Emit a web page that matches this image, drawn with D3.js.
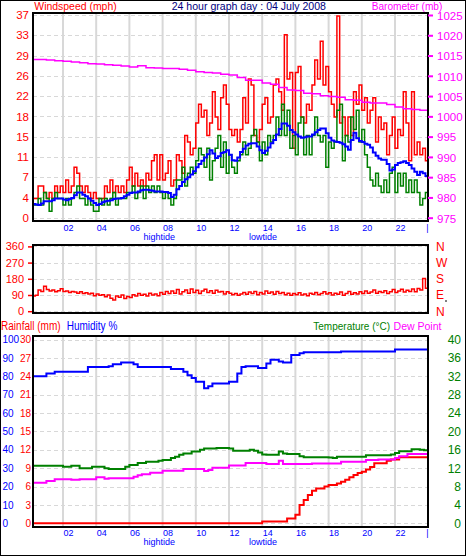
<!DOCTYPE html>
<html><head><meta charset="utf-8">
<script src="https://cdn.jsdelivr.net/npm/d3@7"></script>
<style>
html,body{margin:0;padding:0;background:#fff;}
svg{display:block;}
</style></head><body>
<svg id="chart" width="466" height="556"></svg>
<script>
// ---------------- DATA ----------------
// Top panel: 10-minute samples, first at 00:10, last at 24:00 (mph)
const windStartHour = 1/6, windStepHours = 1/6;
const gustMph = [
3.5,3.5,5.8,5.8,4.6, 3.5,4.6,3.5,5.8,4.6, 5.8,4.6,6.9,4.6,5.8, 9.2,8.1,5.8,4.6,5.8,
4.6,3.5,4.6,3.5,3.5, 3.5,5.8,4.6,6.9,4.6, 5.8,4.6,5.8,4.6,6.9, 9.2,5.8,8.1,5.8,6.9,
5.8,8.1,6.9,10.4,11.5, 6.9,11.5,6.9,8.1,10.4, 5.8,6.9,11.5,10.4,8.1, 15.0,13.8,11.5,12.7,17.3,
20.7,18.4,19.6,15.0,17.3, 23.0,18.4,16.1,21.9,24.2, 20.7,16.1,15.0,16.1,13.8, 16.1,21.9,17.3,25.3,24.2,
15.0,13.8,16.1,20.7,21.9, 17.3,18.4,24.2,25.3,23.0, 19.6,33.4,25.3,26.5,12.7, 26.5,27.6,18.4,17.3,20.7,
19.6,24.2,28.8,25.3,32.2, 24.2,27.6,23.0,20.7,18.4, 36.8,17.3,18.4,15.0,18.4, 15.0,23.0,20.7,24.2,19.6,
21.9,17.3,19.6,21.9,13.8, 18.4,16.1,17.3,11.5,15.0, 18.4,12.7,16.1,15.0,23.0, 17.3,10.4,23.0,11.5,13.8,
11.5,12.7,10.4,9.2];
const avgMph = [
2.3,2.3,3.5,2.3,4.6, 3.5,1.2,3.5,4.6,3.5, 3.5,2.3,3.5,2.3,3.5, 4.6,5.8,3.5,3.5,2.3,
3.5,2.3,1.2,1.2,3.5, 2.3,3.5,2.3,3.5,4.6, 2.3,3.5,3.5,3.5,4.6, 4.6,5.8,3.5,4.6,5.8,
3.5,5.8,4.6,5.8,4.6, 5.8,4.6,3.5,4.6,3.5, 2.3,3.5,6.9,6.9,9.2, 5.8,8.1,9.2,8.1,10.4,
12.7,11.5,9.2,12.7,6.9, 10.4,12.7,15.0,9.2,13.8, 8.1,11.5,9.2,8.1,10.4, 11.5,13.8,11.5,12.7,15.0,
16.1,13.8,10.4,13.8,11.5, 15.0,13.8,15.0,18.4,15.0, 20.7,15.0,19.6,12.7,15.0, 11.5,17.3,18.4,11.5,15.0,
11.5,15.0,18.4,15.0,13.8, 15.0,9.2,13.8,12.7,13.8, 19.6,20.7,10.4,15.0,13.8, 18.4,16.1,19.6,13.8,16.1,
11.5,9.2,6.9,5.8,8.1, 5.8,4.6,6.9,4.6,8.1, 9.2,4.6,8.1,5.8,8.1, 4.6,6.9,4.6,6.9,4.6,
2.3,3.5,4.6,4.6];
const smoothMph = [
2.5,2.4,2.3,2.6,3.0, 3.0,3.0,3.2,3.5,3.5, 3.5,3.3,3.2,3.4,3.6, 4.1,4.6,4.6,4.2,3.9,
3.5,3.1,2.7,2.3,2.5, 2.8,3.0,3.1,3.2,3.4, 3.5,3.5,3.6,3.9,4.2, 4.5,4.6,4.6,4.8,5.0,
5.1,5.1,5.0,4.9,4.8, 4.8,4.8,4.7,4.7,4.5, 3.8,4.2,5.2,5.8,6.5, 7.0,7.4,7.9,8.5,9.2,
9.8,10.4,11.0,11.6,12.3, 11.7,10.9,11.2,11.8,12.0, 12.3,11.5,10.5,10.4,11.0, 12.0,12.6,13.2,13.5,13.6,
13.6,13.0,12.3,11.8,12.2, 12.8,13.6,14.2,15.2,16.2, 17.2,17.2,16.8,16.0,15.6, 15.2,14.8,14.6,14.7,14.8,
14.8,15.2,15.6,16.0,16.3, 16.3,15.4,14.6,14.1,13.9, 13.8,13.7,13.4,13.0,12.4, 14.2,15.5,14.5,14.0,13.8,
13.5,13.3,12.8,11.9,11.3, 10.8,10.6,10.6,9.8,8.6, 8.8,9.6,10.0,10.1,10.3, 10.0,9.6,9.0,8.4,7.8,
8.4,8.1,7.6,7.3];
// Barometer: 30-minute samples from 00:00 (mb)
const baroStartHour = 0, baroStepHours = 0.5;
const baroMb = [1014.0,1014.0,1013.9,1013.7,1013.6,1013.4,1013.2,1013.0,1012.9,1012.7,1012.6,1012.4,1012.2,1012.5,1012.0,1011.9,1011.8,1011.8,1011.6,1011.4,1011.0,1010.8,1010.7,1010.4,1010.2,1009.6,1008.9,1008.9,1008.2,1007.9,1007.1,1006.5,1006.4,1005.7,1005.6,1005.1,1004.9,1004.7,1004.1,1004.0,1003.5,1003.3,1003.3,1002.9,1002.3,1001.9,1001.7,1001.5,1001.4];
// Wind direction: 10-minute samples (degrees)
const windDirDeg = [
85,88,118,110,138, 120,112,118,108,114, 125,110,112,104,110, 106,100,108,98,102,
95,100,86,96,88, 92,80,90,72,62, 84,78,90,70,82, 76,92,84,98,88,
94,84,100,90,96, 86,104,94,110,98, 112,100,120,96,108, 118,100,124,104,116,
98,112,122,104,114, 100,116,106,110,96, 108,100,92,98,88, 96,104,94,106,98,
110,92,104,96,112, 100,106,94,110,98, 104,92,100,88,98, 92,102,90,96,86,
100,94,104,92,98, 108,96,102,90,100, 94,106,88,98,110, 94,102,96,108,98,
112,100,106,118,100, 110,104,114,98,108, 120,104,112,122,106, 116,110,124,108,126,
118,182,128,90];
// Bottom panel: 15-minute samples, first at 00:15, last at 24:00
const climStartHour = 0.25, climStepHours = 0.25;
const humidityPct = [80,80,80,81.5,81.5,82.5,82.5,82.5,82.5,82.5,
82.5,82.5,82.5,85,85,85,85,85,85.5,86.5,
86.5,87.5,87.5,87.5,86.5,85,85,85,85,85,
85,85,85,84,84,84,82.5,80.5,79,77,
77,73.5,74.5,76,76,76,76,77,77,81.5,
85,85.5,85.5,85.5,84.5,84.5,87,89,89,88,
87.5,87.5,91.5,91.5,92.5,93,93,93,93,93,
93,93,93,93,93.5,93.5,93.5,93.5,93.5,93.5,
93.5,93.5,93.5,93.5,93.5,93.5,93.5,94.5,94.5,94.5,
94.5,94.5,94.5,94.5,94.5,94.5];
const temperatureC = [12.5,12.5,12.5,12.5,12.5,12.5,12.5,12.3,12.3,12.5,
12.5,12.0,12.0,12.0,12.3,12.3,12.3,12.0,11.8,11.8,
11.8,11.8,12.3,12.7,12.7,13.1,13.1,13.4,13.4,13.4,
13.6,13.8,13.8,14.2,14.5,14.9,15.2,15.2,15.6,15.6,
16.0,16.3,16.3,16.3,16.4,16.4,16.4,16.3,15.8,15.8,
15.8,15.8,16.0,15.8,15.4,15.0,14.9,14.9,14.9,15.6,
15.2,15.1,15.1,15.1,14.6,14.4,14.4,14.4,14.4,14.4,
14.4,14.3,14.2,14.5,14.5,14.5,14.5,14.5,14.5,14.5,
14.8,14.8,14.8,14.8,14.8,14.8,15.0,15.3,15.7,15.7,
15.7,16.1,16.1,16.0,15.9,15.9];
const dewPointC = [8.8,8.8,8.8,9.2,9.2,9.6,9.6,9.6,9.6,9.5,
9.5,9.6,9.6,9.6,9.6,10.0,10.0,9.7,9.8,9.8,
9.8,9.8,9.8,9.8,10.15,10.45,10.7,10.7,11.0,11.0,
11.0,11.45,11.45,11.45,11.45,11.45,11.8,11.8,11.8,11.8,
11.8,11.4,11.6,12.1,12.1,12.1,12.1,12.6,12.6,12.6,
12.6,13.1,13.1,13.1,13.1,13.1,12.9,12.9,12.9,13.6,
12.9,12.9,12.9,12.9,12.9,12.9,12.9,13.0,13.0,13.0,
13.0,13.0,13.0,13.0,13.4,13.4,13.4,13.4,13.4,13.4,
13.8,13.8,13.8,13.9,13.9,13.9,13.9,14.2,14.6,14.6,
15.1,15.1,15.1,15.1,15.1,15.1];
const rainfallMm = [0,0,0,0,0,0,0,0,0,0,
0,0,0,0,0,0,0,0,0,0,
0,0,0,0,0,0,0,0,0,0,
0,0,0,0,0,0,0,0,0,0,
0,0,0,0,0,0,0,0,0,0,
0,0,0,0,0,0.3,0.3,0.3,0.3,0.3,
0.3,0.8,0.8,1.4,3.0,3.8,4.6,5.3,5.7,5.7,
6.0,6.25,6.25,6.5,6.8,7.1,7.5,7.9,8.2,8.4,
8.8,9.2,9.8,9.8,9.8,10.2,10.4,10.4,10.8,10.8,
10.8,10.8,10.8,10.8,10.8,0];
// Tick labels
const hourTickValues = [2,4,6,8,10,12,14,16,18,20,22,24];
const hourTickLabels = ["02","04","06","08","10","12","14","16","18","20","22","|"];
const tideHours = [7.8, 14.05];
const tideLabels = ["hightide","lowtide"];
const windTickLabels = ["0","4","7","11","15","18","22","26","29","33","37"];
const baroTicks = [975,980,985,990,995,1000,1005,1010,1015,1020,1025];
const dirTicks = [0,90,180,270,360];
const dirLabels = ["N","E","S","W","N"];
const humidityTicks = [0,10,20,30,40,50,60,70,80,90,100];
const rainTicks = [0,3,6,9,12,15,18,21,24,27,30];
const tempTicks = [0,4,8,12,16,20,24,28,32,36,40];

// ---------------- DRAW ----------------
const FONT = '"Liberation Sans", Arial, sans-serif';
const RED = "#ff0000", GREEN = "#008000", BLUE = "#0000ff", MAG = "#ff00ff", NAVY = "#000080";
const GRID = "#d8d8d8";
const svg = d3.select("#chart");
svg.append("rect").attr("width",466).attr("height",556).attr("fill","#fff");

const x = d3.scaleLinear().domain([0,24]).range([29.8,428.2]);
const P1 = {l:33,r:428,t:13,b:221};
const P2 = {l:33,r:428,t:245,b:313};
const P3 = {l:33,r:428,t:336,b:527};

const yWind = d3.scaleLinear().domain([0,37]).range([217.7,15]);
const yBaro = d3.scaleLinear().domain([975,1025]).range([217.7,15]);
const yDir = d3.scaleLinear().domain([0,360]).range([311.2,246.4]);
const yHum = d3.scaleLinear().domain([0,100]).range([523.3,339.5]);
const yRain = d3.scaleLinear().domain([0,30]).range([523.3,339.5]);
const yTemp = d3.scaleLinear().domain([0,40]).range([523.3,339.5]);

const windTickValues = windTickLabels.map((_, i) => i * 37 / 10);
const gridHours = hourTickValues.slice(0, -1);

const defs = svg.append("defs");
function panel(P, id, hTicks, yScale) {
  defs.append("clipPath").attr("id", id).append("rect")
    .attr("x", P.l + 1).attr("y", P.t + 1).attr("width", P.r - P.l - 2).attr("height", P.b - P.t - 2);
  const g = svg.append("g");
  g.append("g").selectAll("line").data(gridHours).join("line")
    .attr("x1", d => x(d)).attr("x2", d => x(d)).attr("y1", P.t).attr("y2", P.b)
    .attr("stroke", GRID).attr("stroke-width", 2);
  g.append("g").selectAll("line").data(hTicks).join("line")
    .attr("x1", P.l).attr("x2", P.r).attr("y1", d => Math.round(yScale(d)) + 0.5).attr("y2", d => Math.round(yScale(d)) + 0.5)
    .attr("stroke", GRID).attr("stroke-width", 1).attr("stroke-dasharray", "4,3");
  return g.append("g").attr("clip-path", `url(#${id})`);
}
function frame(P) {
  svg.append("rect").attr("x", P.l).attr("y", P.t).attr("width", P.r - P.l).attr("height", P.b - P.t)
    .attr("fill", "none").attr("stroke", "#000").attr("stroke-width", 2);
}
function series(g, values, start, step, yScale, color, width) {
  const line = d3.line().x((d, i) => x(start + i * step)).y(d => yScale(d)).curve(d3.curveStepAfter);
  g.append("path").datum(values).attr("d", line).attr("fill", "none")
    .attr("stroke", color).attr("stroke-width", width).attr("stroke-linejoin", "miter");
}
function styleAxis(g, color, size) {
  g.attr("font-family", FONT).attr("font-size", size);
  g.select(".domain").remove();
  g.selectAll(".tick text").attr("fill", color);
  g.selectAll(".tick line").attr("stroke", color);
}
function text(str, xx, yy, color, len, size) {
  const t = svg.append("text").attr("x", xx).attr("y", yy).attr("fill", color)
    .attr("font-family", FONT).attr("font-size", size || 12).text(str);
  if (len) t.attr("textLength", len).attr("lengthAdjust", "spacingAndGlyphs");
  return t;
}
function xAxis(baseY, tideY) {
  svg.append("g").attr("transform", `translate(0,${baseY})`)
    .call(d3.axisBottom(x).tickValues(hourTickValues).tickFormat((d, i) => hourTickLabels[i]).tickSize(0).tickPadding(0))
    .call(g => { styleAxis(g, BLUE, 9);
      g.selectAll(".tick text").attr("y", 0).attr("dy", 0)
        .attr("text-anchor", (d, i) => i === hourTickLabels.length - 1 ? "end" : "start"); });
  svg.append("g").selectAll("text").data(tideHours).join("text")
    .attr("x", d => x(d)).attr("y", tideY).attr("text-anchor", "middle")
    .attr("font-family", FONT).attr("font-size", 9).attr("fill", BLUE)
    .text((d, i) => tideLabels[i]);
}

// Titles
text("Windspeed (mph)", 34.3, 9.5, RED, 82.4, 11.5);
text("24 hour graph day : 04 July 2008", 171.7, 9.5, NAVY, 154.3, 11.5);
text("Barometer (mb)", 371.7, 9.5, MAG, 70.6, 11.5);

// ---- Top panel
const g1 = panel(P1, "c1", windTickValues, yWind);
series(g1, gustMph, windStartHour, windStepHours, yWind, RED, 1.5);
series(g1, avgMph, windStartHour, windStepHours, yWind, GREEN, 1.5);
series(g1, smoothMph, windStartHour, windStepHours, yWind, BLUE, 2);
series(g1, baroMb, baroStartHour, baroStepHours, yBaro, MAG, 1.5);
frame(P1);
svg.append("g").attr("transform", "translate(29,0)")
  .call(d3.axisLeft(yWind).tickValues(windTickValues).tickFormat((d, i) => windTickLabels[i]).tickSize(0).tickPadding(0))
  .call(g => styleAxis(g, RED, 11.5));
svg.append("g").attr("transform", `translate(${P1.r},0)`)
  .call(d3.axisRight(yBaro).tickValues(baroTicks).tickFormat(d3.format("d")).tickSize(5).tickPadding(4))
  .call(g => { styleAxis(g, MAG, 11.5); g.selectAll(".tick line").attr("stroke-width", 2);
    g.selectAll(".tick text").attr("dy", "0.38em"); });
xAxis(231, 240);

// ---- Middle panel
const g2 = panel(P2, "c2", dirTicks, yDir);
series(g2, windDirDeg, windStartHour, windStepHours, yDir, RED, 1.5);
frame(P2);
svg.append("g").attr("transform", `translate(${P2.l - 1},0)`)
  .call(d3.axisLeft(yDir).tickValues(dirTicks).tickSize(4).tickPadding(4))
  .call(g => { styleAxis(g, RED, 11); g.selectAll(".tick line").attr("stroke-width", 1.5); });
svg.append("g").attr("transform", `translate(${P2.r},0)`)
  .call(d3.axisRight(yDir).tickValues(dirTicks).tickFormat((d, i) => dirLabels[i]).tickSize(0).tickPadding(8))
  .call(g => styleAxis(g, RED, 12));
svg.append("line").attr("x1", 445).attr("x2", 447).attr("y1", 301).attr("y2", 301).attr("stroke", "#000");

// ---- Bottom panel
text("Rainfall (mm)", 1, 330, RED, 59.7);
text("Humidity %", 66.7, 330, BLUE, 50.6);
text("Temperature (°C)", 313.3, 330, GREEN, null, 10);
text("Dew Point", 393.6, 330, MAG, null, 10.5);
const g3 = panel(P3, "c3", humidityTicks, yHum);
series(g3, rainfallMm, climStartHour, climStepHours, yRain, RED, 2);
series(g3, dewPointC, climStartHour, climStepHours, yTemp, MAG, 2);
series(g3, temperatureC, climStartHour, climStepHours, yTemp, GREEN, 2);
series(g3, humidityPct, climStartHour, climStepHours, yHum, BLUE, 2);
frame(P3);
svg.append("g").attr("transform", "translate(2.5,0)")
  .call(d3.axisRight(yHum).tickValues(humidityTicks).tickSize(0).tickPadding(0))
  .call(g => styleAxis(g, BLUE, 10));
svg.append("g").attr("transform", "translate(31,0)")
  .call(d3.axisLeft(yRain).tickValues(rainTicks).tickSize(0).tickPadding(0))
  .call(g => styleAxis(g, RED, 10));
svg.append("g").attr("transform", "translate(461,0)")
  .call(d3.axisLeft(yTemp).tickValues(tempTicks).tickSize(0).tickPadding(0))
  .call(g => styleAxis(g, GREEN, 12));
xAxis(536, 545);

// Outer border
svg.append("rect").attr("x", 0.5).attr("y", 0.5).attr("width", 465).attr("height", 555)
  .attr("fill", "none").attr("stroke", "#000").attr("stroke-width", 1);
</script>
</body></html>
